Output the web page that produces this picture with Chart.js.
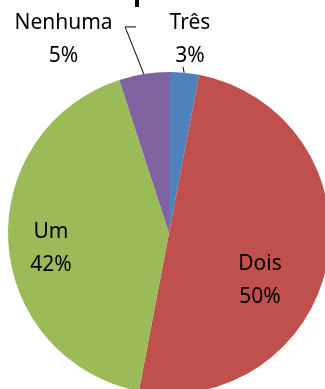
<!DOCTYPE html>
<html>
<head>
<meta charset="utf-8">
<script src="https://cdn.jsdelivr.net/npm/chart.js@4/dist/chart.umd.min.js"></script>
<style>
  html, body { margin: 0; padding: 0; background: #fff; overflow: hidden; width: 325px; height: 389px; }
  canvas { display: block; }
</style>
</head>
<body>
<canvas id="pie" width="340" height="400"></canvas>
<script>
// Answer categories and their shares (percent)
const categories = ['Três', 'Dois', 'Um', 'Nenhuma'];
const shares = [3, 50, 42, 5];
const sliceColors = ['#4F81BD', '#C0504D', '#9BBB59', '#8064A2'];

// Label anchors in units of the pie radius, relative to the pie centre
// (x of text centre, y of first baseline).
const labelAnchors = [
  { dx: 0.130, dy: -1.270 },
  { dx: 0.565, dy: 0.230 },
  { dx: -0.733, dy: 0.031 },
  { dx: -0.655, dy: -1.265 }
];
// Leader lines for the labels placed outside the pie (radius units),
// ending on the slice's outer edge at its mid angle.
const leaders = [
  [{ dx: 0.087, dy: -1.032 }],
  null,
  null,
  [{ dx: -0.273, dy: -1.280 }, { dx: -0.205, dy: -1.280 }]
];

const FONT = '21px "Noto Sans", "Open Sans", sans-serif';
const LINE_GAP = 33;

const labelPlugin = {
  id: 'sliceLabels',
  afterDatasetsDraw(chart) {
    const ctx = chart.ctx;
    const meta = chart.getDatasetMeta(0);
    ctx.save();
    ctx.font = FONT;
    ctx.fillStyle = '#000';
    ctx.strokeStyle = '#000';
    ctx.lineWidth = 1;
    ctx.textAlign = 'center';
    ctx.textBaseline = 'alphabetic';
    meta.data.forEach((arc, i) => {
      const cx = arc.x, cy = arc.y, r = arc.outerRadius;
      const a = labelAnchors[i];
      const x = cx + a.dx * r;
      const y = cy + a.dy * r;
      ctx.fillText(categories[i], x, y);
      ctx.fillText(shares[i] + '%', x, y + LINE_GAP);
      const pts = leaders[i];
      if (pts) {
        const mid = (arc.startAngle + arc.endAngle) / 2;
        const ex = cx + Math.cos(mid) * r;
        const ey = cy + Math.sin(mid) * r;
        ctx.beginPath();
        ctx.moveTo(ex, ey);
        pts.forEach(p => ctx.lineTo(cx + p.dx * r, cy + p.dy * r));
        ctx.stroke();
      }
    });
    // lower stroke of the heading glyph peeking in at the top edge
    ctx.fillRect(135, 0, 4, 7);
    ctx.restore();
  }
};

new Chart(document.getElementById('pie'), {
  type: 'pie',
  data: {
    labels: categories,
    datasets: [{
      data: shares,
      backgroundColor: sliceColors,
      borderWidth: 0
    }]
  },
  options: {
    responsive: false,
    animation: false,
    layout: { padding: { left: 8, top: 72, right: 10, bottom: 6 } },
    plugins: {
      legend: { display: false },
      tooltip: { enabled: false },
      title: { display: false }
    }
  },
  plugins: [labelPlugin]
});
</script>
</body>
</html>
